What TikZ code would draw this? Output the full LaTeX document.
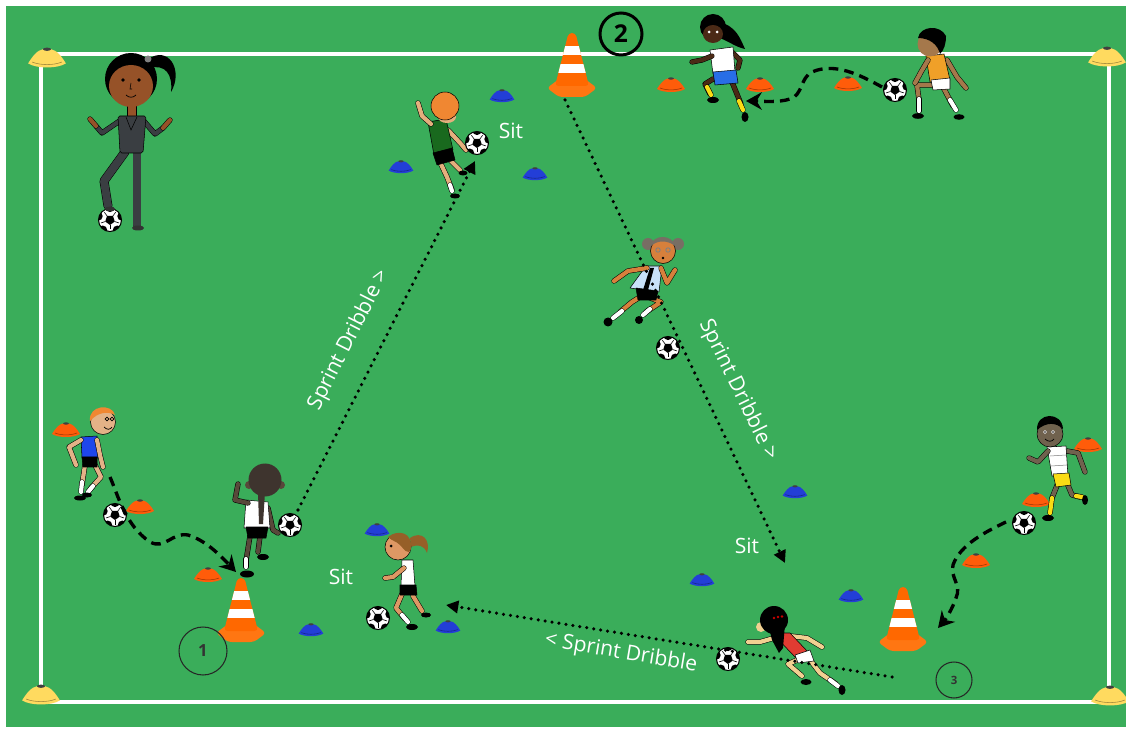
\documentclass[tikz,border=0pt]{standalone}
\usepackage{fontspec}
\setmainfont{Open Sans}
\usetikzlibrary{arrows.meta}

\definecolor{pitch}{RGB}{58,173,90}
\definecolor{conor}{RGB}{255,104,0}
\definecolor{conebase}{RGB}{255,118,18}
\definecolor{discor}{RGB}{255,92,10}
\definecolor{discbl}{RGB}{35,62,215}
\definecolor{discye}{RGB}{255,218,95}
\definecolor{suit}{RGB}{58,62,66}
\definecolor{skA}{RGB}{150,82,40}
\definecolor{skB}{RGB}{228,175,125}
\definecolor{skC}{RGB}{75,42,22}
\definecolor{skD}{RGB}{165,120,75}
\definecolor{skE}{RGB}{215,128,60}
\definecolor{skF}{RGB}{228,178,135}
\definecolor{skG}{RGB}{88,72,58}
\definecolor{skH}{RGB}{222,152,100}
\definecolor{skI}{RGB}{112,98,78}
\definecolor{skJ}{RGB}{242,208,145}
\definecolor{hairO}{RGB}{240,135,50}
\definecolor{hairBr}{RGB}{150,95,40}
\definecolor{hairGr}{RGB}{120,110,100}
\definecolor{hairDk}{RGB}{62,52,46}
\definecolor{shGreen}{RGB}{25,105,30}
\definecolor{shOrange}{RGB}{240,160,40}
\definecolor{shBlue}{RGB}{30,70,235}
\definecolor{shLight}{RGB}{200,225,248}
\definecolor{shRed}{RGB}{225,60,50}
\definecolor{sockY}{RGB}{250,220,20}
\definecolor{shortsBl}{RGB}{40,110,230}

\tikzset{
  fieldline/.style={white, line width=1.8pt},
  body/.style={draw=black, line width=0.3pt, line join=round},
  limb/.style={draw=black, line width=0.3pt, double=#1, double distance=2.4pt, line cap=round, line join=round},
  dotpath/.style={line width=2pt, line cap=round, dash pattern=on 0pt off 4pt, -{Triangle[length=7pt,width=7pt]}},
  dashpath/.style={line width=1.9pt, dash pattern=on 5.5pt off 3.5pt, -{Stealth[length=9pt,width=10pt,inset=3pt]}},
  drilltext/.style={text=white, font=\fontsize{12}{14}\selectfont, inner sep=1pt},
  numring/.style={draw=black!85, circle, line width=0.6pt, inner sep=0pt, text=black!80},
  pics/ball/.style={code={
    \fill[white] (0,0) circle (11.5);
    \begin{scope}
      \clip (0,0) circle (11.5);
      \fill[black] (90:5)--(162:5)--(234:5)--(306:5)--(18:5)--cycle;
      \foreach \a in {54,126,198,270,342} {
        \fill[black] (\a:12.5) circle (4.6);
        \draw[black, line width=0.35pt] (\a+36:5) -- (\a+36:9.5);
      }
    \end{scope}
    \draw[black, line width=0.6pt] (0,0) circle (11.5);
  }},
  pics/disc/.style={code={
    \fill[#1] (-14,4) .. controls (-11,-1) and (-7,-6) .. (-3,-6.5) -- (3,-6.5)
      .. controls (7,-6) and (11,-1) .. (14,4) .. controls (8,8) and (-8,8) .. (-14,4) -- cycle;
    \fill[black!75] (0,-6.5) ellipse (3 and 1.2);
    \draw[black!40!#1, line width=0.3pt] (-11,3) .. controls (-5,5.5) and (5,5.5) .. (11,3);
  }},
  pics/bigcone/.style={code={
    \fill[conebase, rounded corners=2pt] (-25,55) -- (-13,46) -- (13,46) -- (25,55) -- (13,64) -- (-13,64) -- cycle;
    \begin{scope}
      \clip[rounded corners=2pt] (-3.5,0) -- (3.5,0) -- (17,53) -- (-17,53) -- cycle;
      \fill[conor] (-20,-2) rectangle (20,55);
      \fill[white] (-20,13) rectangle (20,22);
      \fill[white] (-20,31) rectangle (20,40);
    \end{scope}
  }},
}

\begin{document}
\begin{tikzpicture}[x=0.02cm,y=-0.02cm]
\useasboundingbox (0,0) rectangle (1126,729);
\fill[white] (0,0) rectangle (1126,729);
\fill[pitch] (6,6) rectangle (1126,727);

% pitch markings and corner markers
\draw[fieldline] (41,54) rectangle (1109,702);
\pic[scale=1.35] at (47,58) {disc=discye};
\pic[scale=1.35] at (1107,57) {disc=discye};
\pic[scale=1.35] at (41,695) {disc=discye};
\pic[scale=1.35] at (1110,696) {disc=discye};

% tall cones
\pic at (572,33) {bigcone};
\pic at (241,578) {bigcone};
\pic at (903,587) {bigcone};

% orange markers
\foreach \p in {(671,85),(760,85),(848,84),(66,430),(140,507),(208,575),(1088,445),(1036,500),(976,561)}
  \pic at \p {disc=discor};
% blue markers
\foreach \p in {(502,96),(401,167),(535,174),(377,530),(311,630),(448,627),(795,492),(702,580),(851,596)}
  \pic[scale=0.88] at \p {disc=discbl};

% numbered stations
\node[draw=black, circle, line width=1.7pt, minimum size=0.84cm, inner sep=0pt,
      font=\bfseries\fontsize{14}{14}\selectfont] (st2) at (621,34) {2};
\node[numring, minimum size=0.96cm, font=\bfseries\fontsize{9.5}{10}\selectfont] (st1) at (203,651) {1};
\node[numring, minimum size=0.72cm, font=\bfseries\fontsize{6.5}{7}\selectfont] (st3) at (954,680) {3};

% ---------- coach ----------
\fill[black] (147,60) .. controls (168,44) and (184,70) .. (171,92) .. controls (173,74) and (165,64) .. (150,68) -- cycle;
\pic at (110,220) {ball};
\draw[limb=suit, double distance=4.5pt] (125,152) -- (104,181) -- (108,206);
\draw[limb=suit, double distance=4.5pt] (137,152) -- (137,225);
\fill[black!80] (138,228) ellipse (6 and 2.5);
\fill[black!80] (110,209) ellipse (5 and 2.5);
\draw[limb=suit] (121,120) -- (102,133) -- (96,126);
\draw[limb=skA] (96,126) -- (90,119);
\draw[limb=suit] (143,120) -- (155,134) -- (163,128);
\draw[limb=skA] (163,128) -- (170,120);
\filldraw[body, fill=skA] (127,102) rectangle (136,117);
\filldraw[body, fill=suit, rounded corners=1pt] (118,116) -- (146,116) -- (143,153) -- (120,153) -- cycle;
\draw[black, line width=0.3pt] (126,117) -- (131,130) -- (137,117);
\fill[black] (131,79) circle (26);
\fill[skA] (131,86) ellipse (22 and 21);
\fill[gray] (148,59) circle (3.5);
\fill[black] (123,80) circle (1.8);
\fill[black] (139,80) circle (1.8);
\draw[black, line width=0.3pt] (131,83) -- (130,89) -- (132,89);
\draw[black, line width=0.4pt] (126,95) .. controls (129,98) and (133,98) .. (136,95);

% ---------- green shirt player ----------
\draw[limb=skB] (450,160) -- (460,170);
\fill[black] (463,173) ellipse (4.5 and 2.5);
\draw[limb=skB] (440,162) -- (447,177) -- (452,190);
\draw[limb=white] (450,185) -- (452,191);
\fill[black] (455,196) ellipse (5 and 2.5);
\draw[limb=skB] (448,130) -- (461,144) -- (466,150);
\filldraw[body, fill=shGreen] (428,122) -- (446,119) -- (453,150) -- (434,155) -- cycle;
\filldraw[body, fill=black] (433,153) -- (452,148) -- (455,160) -- (437,165) -- cycle;
\draw[limb=skB] (431,124) -- (422,116) -- (418,103);
\fill[skB] (447,117) ellipse (9 and 6);
\filldraw[body, fill=hairO] (445,106) circle (14);
\pic at (477,143) {ball};

% ---------- white shirt / blue shorts player (top) ----------
\draw[limb=skC] (732,82) -- (741,104);
\draw[limb=sockY] (739,101) -- (743,110);
\fill[black] (745,117) ellipse (3.5 and 5);
\draw[limb=skC] (713,79) -- (705,84) -- (710,94);
\draw[limb=sockY] (707,87) -- (711,95);
\fill[black] (713,100) ellipse (6 and 3);
\draw[limb=skC] (732,52) -- (740,60) -- (738,68);
\filldraw[body, fill=white] (710,50) -- (733,47) -- (735,72) -- (713,74) -- cycle;
\filldraw[body, fill=shortsBl] (713,72) -- (736,70) -- (738,83) -- (715,85) -- cycle;
\draw[limb=skC] (712,56) -- (702,60) -- (692,62);
\fill[black] (719,22) .. controls (736,26) and (740,38) .. (745,49) .. controls (735,47) and (727,40) .. (719,38) -- cycle;
\fill[black] (713,27) circle (13);
\fill[skC] (713,34) ellipse (10 and 9);
\fill[white] (709,32) circle (1.5);
\fill[white] (717,32) circle (1.5);

% ---------- orange shirt player ----------
\draw[limb=skD] (943,87) -- (953,106);
\draw[limb=white] (950,100) -- (956,110);
\fill[black] (959,117) ellipse (5.5 and 2.8);
\draw[limb=skD] (933,85) -- (917,85) -- (919,100);
\draw[limb=white] (919,99) -- (919,111);
\fill[black] (918,116) ellipse (6 and 2.8);
\draw[limb=skD] (947,60) -- (957,77) -- (966,88);
\filldraw[body, fill=shOrange] (926,56) -- (944,54) -- (950,80) -- (930,82) -- cycle;
\filldraw[body, fill=white] (931,80) -- (950,78) -- (950,89) -- (933,90) -- cycle;
\draw[limb=skD] (928,60) -- (921,72) -- (915,83);
\fill[skD] (930,44) circle (12.5);
\fill[black] (918,38) .. controls (920,26) and (940,24) .. (946,36) .. controls (946,44) and (944,50) .. (940,54) .. controls (938,45) and (930,38) .. (918,38) -- cycle;
\pic at (895,90) {ball};

% ---------- light blue shirt player (centre) ----------
\draw[limb=skE] (648,297) -- (661,302) -- (646,312);
\draw[limb=white] (650,309) -- (643,315);
\fill[black] (639,320) ellipse (4 and 4);
\draw[limb=skE] (640,297) -- (632,302) -- (620,312);
\draw[limb=white] (622,311) -- (613,318);
\fill[black] (608,322) ellipse (4.5 and 4.5);
\filldraw[body, fill=shLight] (646,266) -- (662,266) -- (659,292) -- (630,288) -- cycle;
\fill[black] (650,268) -- (654,268) -- (648,290) -- (643,290) -- cycle;
\filldraw[body, fill=black] (636,288) -- (658,291) -- (656,300) -- (638,300) -- cycle;
\draw[limb=skE] (647,268) -- (628,271) -- (614,281);
\draw[limb=skE] (661,268) -- (667,283) -- (675,270);
\fill[hairGr] (648,244) circle (6);
\fill[hairGr] (678,244) circle (6);
\filldraw[body, fill=skE] (663,251) circle (12.5);
\fill[hairGr] (651,246) .. controls (652,234) and (673,234) .. (675,246) .. controls (668,240) and (657,240) .. (651,246) -- cycle;
\draw[gray, line width=0.5pt] (658,250) circle (2.2) (668,250) circle (2.2);
\fill[black] (663,258) circle (1.3);
\pic at (668,348) {ball};

% ---------- blue shirt player (left) ----------
\draw[limb=skF] (95,465) -- (101,477) -- (91,488);
\draw[limb=white] (93,486) -- (88,492);
\fill[black] (87,495) ellipse (5 and 2.5);
\draw[limb=skF] (85,465) -- (82,485);
\draw[limb=white] (82,482) -- (81,492);
\fill[black] (80,498) ellipse (6 and 2.5);
\filldraw[body, fill=shBlue] (81,437) -- (97,436) -- (98,458) -- (82,458) -- cycle;
\filldraw[body, fill=black] (82,457) -- (97,457) -- (97,467) -- (83,467) -- cycle;
\draw[limb=skF] (81,440) -- (69,447) -- (76,465);
\draw[limb=skF] (97,440) -- (100,455) -- (103,467);
\filldraw[body, fill=skF] (103,422) circle (12.5);
\fill[hairO] (90,421) .. controls (88,405) and (112,403) .. (115,415) .. controls (108,411) and (98,412) .. (90,421) -- cycle;
\draw[black, line width=0.4pt] (107,419) circle (1.8) (112,419) circle (1.8);
\draw[black, line width=0.4pt] (104,427) .. controls (107,430) and (110,430) .. (112,427);
\pic at (115,515) {ball};

% ---------- dark hair player near station 1 ----------
\draw[limb=skG] (260,536) -- (258,552);
\fill[black] (263,557) ellipse (6 and 3);
\draw[limb=skG] (250,536) -- (246,561);
\draw[limb=white] (246,559) -- (246,567);
\fill[black] (247,574) ellipse (7 and 3.5);
\draw[limb=skG] (268,508) -- (273,530) -- (278,533);
\filldraw[body, fill=white] (246,500) -- (268,502) -- (270,528) -- (244,528) -- cycle;
\filldraw[body, fill=black] (246,527) -- (268,527) -- (266,538) -- (248,538) -- cycle;
\draw[limb=skG] (248,503) -- (235,500) -- (238,484);
\fill[skG] (249,485) circle (4) (281,485) circle (4);
\fill[hairDk] (265,480) circle (16.5);
\fill[hairDk] (258,492) -- (265,492) -- (263,524) -- (259,524) -- cycle;
\pic at (290,525) {ball};

% ---------- ponytail player near bottom markers ----------
\draw[limb=skH] (413,596) -- (422,611);
\fill[black] (426,615) ellipse (5 and 2.5);
\draw[limb=skH] (402,594) -- (396,608) -- (405,619);
\draw[limb=white] (402,615) -- (408,622);
\fill[black] (412,627) ellipse (6 and 3);
\filldraw[body, fill=white] (402,560) -- (413,560) -- (415,586) -- (401,586) -- cycle;
\filldraw[body, fill=black] (400,585) -- (416,585) -- (417,595) -- (400,595) -- cycle;
\draw[limb=skH] (404,568) -- (393,577) -- (385,578);
\fill[hairBr] (410,538) .. controls (422,530) and (431,540) .. (427,553) .. controls (424,545) and (418,544) .. (411,547) -- cycle;
\filldraw[body, fill=skH] (398,547) circle (13);
\fill[hairBr] (388,537) .. controls (398,529) and (413,532) .. (411,549) .. controls (408,556) and (404,549) .. (400,545) .. controls (396,541) and (392,541) .. (388,537) -- cycle;
\fill[black] (391,546) circle (1.5);
\pic at (378,618) {ball};

% ---------- yellow shorts player (right) ----------
\draw[limb=skI] (1067,483) -- (1072,495) -- (1080,497);
\draw[limb=sockY] (1076,496) -- (1082,497);
\fill[black] (1085,500) ellipse (3 and 5);
\draw[limb=skI] (1058,483) -- (1052,498);
\draw[limb=sockY] (1052,498) -- (1050,513);
\fill[black] (1048,518) ellipse (6 and 3);
\draw[limb=skI] (1067,451) -- (1078,453) -- (1085,472);
\filldraw[body, fill=white] (1047,447) -- (1066,446) -- (1068,476) -- (1052,476) -- cycle;
\draw[gray, line width=0.3pt] (1050,456) -- (1066,455) (1051,466) -- (1067,465);
\filldraw[body, fill=sockY] (1053,474) -- (1069,473) -- (1071,485) -- (1056,487) -- cycle;
\draw[limb=skI] (1048,451) -- (1038,462) -- (1029,458);
\filldraw[body, fill=skI] (1050,434) circle (13);
\fill[black] (1037,430) .. controls (1036,412) and (1062,411) .. (1063,429) .. controls (1056,422) and (1046,422) .. (1037,430) -- cycle;
\fill[white] (1045,432) circle (1.8) (1053,432) circle (1.8);
\fill[black] (1045,432) circle (0.8) (1053,432) circle (0.8);
\draw[black, line width=0.4pt] (1045,439) .. controls (1048,442) and (1052,442) .. (1054,439);
\pic at (1024,523) {ball};

% ---------- red shirt player (bottom) ----------
\draw[limb=skJ] (810,660) -- (820,673) -- (836,684);
\draw[limb=white] (830,680) -- (838,686);
\fill[black] (842,690) ellipse (3.5 and 5);
\draw[limb=skJ] (797,660) -- (788,664) -- (802,676);
\fill[black] (806,682) ellipse (5.5 and 3);
\draw[limb=skJ] (790,636) -- (807,638) -- (822,647);
\filldraw[body, fill=shRed] (772,633) -- (790,633) -- (808,652) -- (796,658) -- cycle;
\filldraw[body, fill=white] (795,655) -- (810,650) -- (814,661) -- (798,663) -- cycle;
\draw[limb=skJ] (774,638) -- (760,642) -- (748,642);
\fill[skJ] (761,627) ellipse (5 and 5);
\fill[black] (774,620) circle (14);
\fill[black] (768,624) -- (785,624) -- (783,648) -- (779,653) -- (772,640) -- cycle;
\fill[red!80!black] (774,618) circle (1.3) (778,617) circle (1.3) (782,616.5) circle (1.3);
\pic at (728,659) {ball};

% ---------- dribble routes ----------
\coordinate (r1a) at (298,510);
\coordinate (r1b) at (475,161);
\coordinate (r2a) at (565,100);
\coordinate (r2b) at (785,563);
\coordinate (r3a) at (892,677);
\coordinate (r3b) at (446,605);
\draw[dotpath] (r1a) -- (r1b);
\draw[dotpath] (r2a) -- (r2b);
\draw[dotpath] (r3a) -- (r3b);

\node[drilltext, rotate=63] (lab1) at (349,340) {Sprint Dribble >};
\node[drilltext, rotate=-64] (lab2) at (738,390) {Sprint Dribble >};
\node[drilltext, rotate=-9.5] (lab3) at (621,653) {< Sprint Dribble};
\node[drilltext] (sit1) at (511,131) {Sit};
\node[drilltext] (sit2) at (747,546) {Sit};
\node[drilltext] (sit3) at (341,577) {Sit};

% ---------- dribble in to the start ----------
\coordinate (w1a) at (110,477);
\coordinate (w1b) at (236,572);
\coordinate (w2a) at (882,87);
\coordinate (w2b) at (746,101);
\coordinate (w3a) at (1006,522);
\coordinate (w3b) at (938,628);
\draw[dashpath] (w1a) .. controls (118,495) and (125,525) .. (150,542)
  .. controls (165,550) and (172,532) .. (188,535)
  .. controls (205,540) and (220,555) .. (w1b);
\draw[dashpath] (w2a) .. controls (860,75) and (835,62) .. (812,72)
  .. controls (800,78) and (803,95) .. (790,99)
  .. controls (778,103) and (760,101) .. (w2b);
\draw[dashpath] (w3a) .. controls (985,532) and (960,545) .. (953,565)
  .. controls (950,578) and (962,585) .. (956,598)
  .. controls (952,610) and (945,620) .. (w3b);
\end{tikzpicture}
\end{document}
